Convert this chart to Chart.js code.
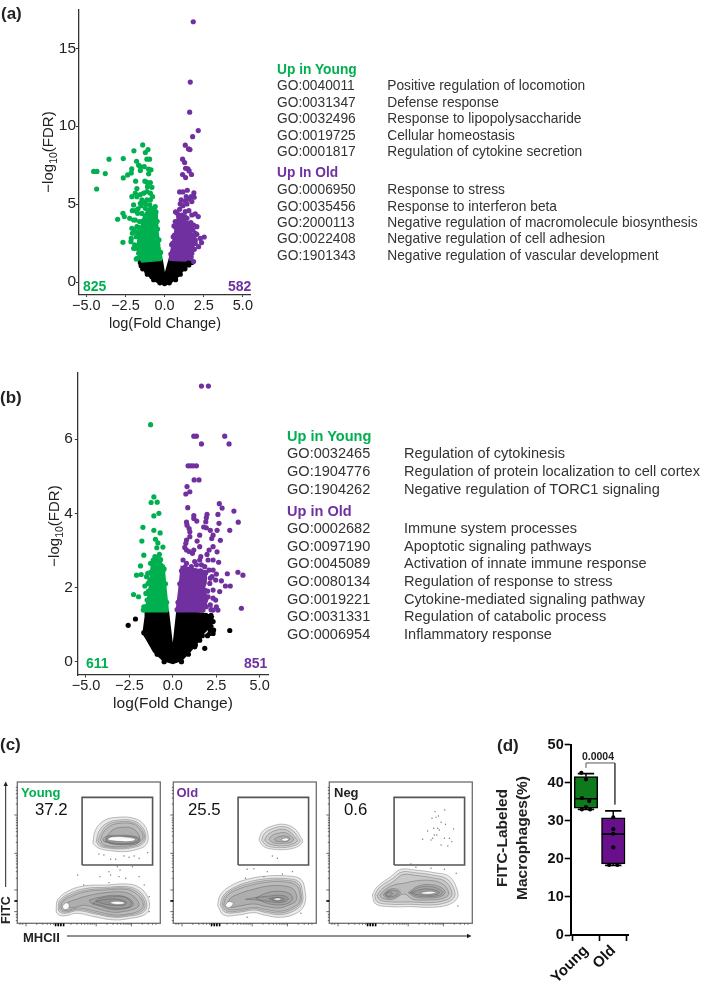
<!DOCTYPE html>
<html>
<head>
<meta charset="utf-8">
<title>Volcano plots and phagocytosis</title>
<script src="https://cdn.jsdelivr.net/npm/chart.js@4"></script>
<style>
	html, body { margin: 0; padding: 0; background: #fff; }
	#page { position: relative; width: 709px; height: 991px; overflow: hidden; font-family: "Liberation Sans", Arial, sans-serif; color: #333; }
	canvas { position: absolute; filter: blur(0.35px); }
	.t { position: absolute; white-space: nowrap; line-height: 1; transform: translateY(-50%); }
	.c { position: absolute; white-space: nowrap; line-height: 1; transform: translate(-50%, -50%); }
	.r { position: absolute; white-space: nowrap; line-height: 1; transform: translate(-50%, -50%) rotate(-90deg); }
	.b { font-weight: bold; }
	sub { font-size: 70%; line-height: 0; }
	svg { position: absolute; left: 0; top: 0; }
</style>
</head>
<body>
<div id="page">
	<canvas id="volcano_a" style="left:0;top:0"></canvas>
	<canvas id="volcano_b" style="left:0;top:360px"></canvas>
	<canvas id="flow_young" style="left:9px;top:776px"></canvas>
	<canvas id="flow_old" style="left:165px;top:776px"></canvas>
	<canvas id="flow_neg" style="left:321px;top:776px"></canvas>
	<canvas id="box_d" style="left:490px;top:735px"></canvas>
	<svg width="709" height="991">
		<line x1="5.7" y1="887" x2="5.7" y2="785" stroke="#222" stroke-width="1"/>
		<path d="M3.5 786 L5.7 781.5 L7.9 786 Z" fill="#222"/>
		<line x1="67" y1="936" x2="468" y2="936" stroke="#222" stroke-width="1"/>
		<path d="M467 933.8 L471.5 936 L467 938.2 Z" fill="#222"/>
	</svg>
</div>
<script>
const GREEN = '#00B050';
const PURPLE = '#7030A0';

// Panel (a) points as [log fold change, -log10 FDR].
const aGreen = [[-1.4,8.8],[-1.96,8.42],[-1.06,8.5],[-1.23,8.31],[-3.55,7.88],[-2.64,7.92],[-1.79,7.75],[-1.13,7.88],[-.96,7.88],[-1.66,7.5],[-1.55,7.4],[-1.3,7.4],[-4.53,7.1],[-4.32,7.1],[-2.1,7.26],[-1.02,7.24],[-.87,7.2],[-3.79,6.96],[-2.13,7],[-2.36,6.87],[-1.55,7.15],[-2.64,6.68],[-1.02,6.94],[-1.85,6.47],[-1.26,6.47],[-1.13,6.4],[-.91,6.38],[-4.34,5.97],[-1.09,6.12],[-.81,6.08],[-1.77,6],[-1.87,5.7],[-1.55,5.61],[-1.34,5.7],[-2.09,5.48],[-1.77,5.48],[-1.13,5.8],[-.91,5.7],[-.77,5.48],[-1.98,4.95],[-2.06,4.58],[-1.55,5.05],[-1.87,4.58],[-1.72,4.41],[-1.23,4.73],[-2.66,4.41],[-2.57,4.2],[-3,4.03],[-2.23,4.09],[-1.98,3.98],[-1.87,3.98],[-2.09,3.45],[-1.77,3.55],[-2.06,3.13],[-1.81,2.91],[-2.13,2.8],[-2.66,2.55],[-2.15,2.59],[-1.98,2.16],[-1.81,1.48],[-1.91,2.38],[-1.66,3.13],[-1.13,5.27],[-1.45,5.27],[-.91,5.27],[-.7,4.73],[-.6,4.84],[-1.02,4.41],[-1.94,3.34],[-1.6,3.88],[-1.87,2.16],[-1.66,1.84],[-1.72,1.52],[-1.5,4.9],[-1.7,4.7],[-1.3,5.1],[-1.45,4.4],[-1.75,3.2],[-1.6,2.6],[-.55,4.5],[-.48,3.9],[-1.7,2.9],[-1.62,3.5],[-.25,1.9],[-.36,2.7],[-.45,3.4],[-.5,3.9],[-.58,4.3],[-1.2,5],[-.95,4.95],[-1.65,2.1],[-1.58,1.55],[-1.42,3.9],[-1.52,3.1]];
const aPurple = [[1.83,16.7],[1.64,12.83],[1.6,10.9],[2.15,9.72],[1.79,9.33],[1.32,8.78],[1.53,8.54],[1.62,8.5],[1.15,7.88],[1.28,7.67],[1.34,7.3],[1.49,7.26],[1.57,7.13],[1.72,6.9],[1.15,6.9],[1.34,6.7],[1.45,5.89],[.96,5.78],[1.17,5.78],[1.87,5.72],[1.7,5.48],[1.89,5.44],[1.55,5.33],[1.38,5.48],[1.06,5.27],[1.74,5.16],[1.32,5.2],[1,5.01],[1.43,5.01],[1.17,4.9],[1.55,4.58],[1.74,4.3],[2.15,4.2],[1.32,4.52],[1.96,4.37],[.7,4.5],[.81,4.41],[.96,4.67],[.68,3.88],[1.21,3.98],[2.06,3.55],[2.53,2.89],[2.36,2.53],[1.96,2.48],[2.06,3.06],[1.81,2.8],[1.6,2.91],[1.74,1.84],[1.85,1.31],[2.28,2.8],[2.17,2.27],[1.96,3.13],[1.64,1.52],[1.79,2.16],[1.43,3.77],[1.68,3.81],[1.85,3.66],[1.53,3.34],[1.81,3.34],[1.96,2.7],[1.43,4.09],[.6,3.6],[.9,4.2],[1.1,4.3],[.45,2.4],[.55,2.9],[1.9,2.1],[1.7,1.6],[.4,1.8],[.53,2.5],[.62,3],[.72,3.5],[.9,4],[1.2,3.7],[1.5,3.6],[1.7,3.5],[1.85,2.6],[1.9,3],[1.75,2.1],[1.05,4.05],[1.3,4.2]];
const aBlack = [[-1.55,1.26],[-1.3,.98],[1.74,1.26],[1.43,1.2],[1.11,.88],[-1.13,.66],[-.81,.34],[.68,.3],[.79,.45],[-1.5,1.05],[-1.1,1.3],[1.6,1.3],[.3,.2],[-.3,.1],[0,-.1],[-1.4,.85],[-1.1,.5],[-.7,.15],[-.3,-.05],[.3,-.05],[.7,.15],[1,.5],[1.3,.85],[1.55,1.1],[.2,0]];
// Outlines of the solid parts of the cloud in (a), where single dots can't be told apart.
const aGreenSolid = [[-.17,1.41],[-.32,2.27],[-.43,3.13],[-.49,4.2],[-.6,4.84],[-1.02,4.73],[-1.34,4.2],[-1.55,3.34],[-1.72,2.48],[-1.6,1.63],[-1.45,1.31]];
const aPurpleSolid = [[.3,1.41],[.47,2.27],[.64,3.13],[.79,3.81],[1.11,4.09],[1.43,3.55],[1.74,3.13],[1.85,2.27],[1.64,1.52],[1.32,1.37]];
const aBlackSolid = [[-1.45,1.35],[-.17,1.41],[0,.34],[.3,1.41],[1.43,1.37],[1.6,1.2],[1.32,.88],[.89,.45],[.47,.02],[0,-.13],[-.49,.02],[-.91,.34],[-1.34,.81],[-1.55,1.2]];

// Panel (b) points.
const bGreen = [[-1.28,6.39],[-1.09,4.44],[-1.25,4.29],[-.9,4.3],[-1.09,3.93],[-.8,4],[-1.72,3.62],[-1.09,3.54],[-.73,3.47],[-1.78,3.25],[-1,3.3],[-.86,3.2],[-.92,3.07],[-.57,3.09],[-1.67,2.87],[-.77,2.89],[-1.03,2.83],[-1.13,2.74],[-.9,2.79],[-1.28,2.65],[-.94,2.65],[-1.86,2.58],[-1.82,2.35],[-2.09,2.33],[-1.44,2.38],[-1.61,2.04],[-2.26,1.81],[-1.97,1.75],[-1.55,1.84],[-1.67,1.48],[-1.7,1.39],[-1.51,1.48],[-1.32,2.2],[-1.13,2.47],[-.59,2.56],[-.56,2.47],[-1.51,2.29],[-1.42,2.11],[-1.48,1.66],[-1.61,1.44],[-.35,1.6],[-.42,2.1],[-.5,2.5],[-.7,2.75],[-1.5,1.5],[-1.4,1.9],[-1.3,2.4],[-1.15,2.65]];
const bPurple = [[1.65,7.43],[2.05,7.43],[1.21,6.08],[1.36,6.08],[2.99,6.08],[1.65,5.87],[3.24,5.87],[.88,5.28],[1.02,5.28],[1.17,5.28],[1.36,5.28],[1.23,4.9],[1.51,4.9],[.82,4.72],[.98,4.58],[.75,4.52],[2.68,4.26],[2.84,4.14],[.86,4.15],[3.52,4.06],[1.97,3.97],[1.93,3.88],[2.6,3.97],[1.21,3.94],[1.21,3.86],[1.38,3.79],[2.66,3.73],[3.77,3.76],[3.28,3.54],[1.9,3.77],[.79,3.76],[.82,3.68],[.94,3.59],[.98,3.5],[1.78,3.63],[1.93,3.61],[2.16,3.54],[2.55,3.54],[2.32,3.41],[1.55,3.41],[.98,3.37],[.79,3.28],[1.4,3.25],[.75,3.19],[2.24,3.32],[2.32,3.1],[2.74,3.27],[.69,3.08],[.79,3.01],[.94,2.97],[1.13,2.92],[1.21,3.01],[1.55,3.1],[2.09,3.01],[2.55,2.96],[1.97,2.89],[1.61,2.83],[2.03,2.74],[2.32,2.74],[1.26,2.7],[.59,2.74],[1.55,2.74],[2.64,2.68],[3.14,2.37],[2.51,2.36],[3.75,2.41],[4.04,2.33],[2.8,2.18],[2.26,2.29],[3.03,2.04],[3.31,2.04],[2.7,1.89],[2.32,1.93],[3.95,1.44],[2.47,1.66],[2.51,1.48],[2.32,1.39],[2.6,1.39],[2.13,2.11],[1.84,1.93],[2.03,1.75],[2.32,1.71],[1.93,1.48],[1.74,1.39],[2.16,1.53],[2.09,2.47],[1.84,2.56],[1.65,2.61],[1.07,2.56],[.79,2.65],[1.36,2.61],[2.32,2.47],[2.16,2.25],[2.47,2.2],[.3,1.6],[.4,2.1],[.5,2.45],[.7,2.55],[1,2.5],[1.3,2.45],[1.6,2.45],[1.9,2.4],[2,1.9],[1.85,1.5],[2.2,1.4],[.25,1.4]];
const bBlack = [[-2.57,.98],[-2.15,1.15],[3.28,.84],[1.84,.36],[2.13,.76],[2.32,1.08],[2.03,1.21],[2.16,.85],[1.93,.99],[2.32,.76],[1.55,.58],[1.26,.4],[-1.67,.78],[-1.23,.49],[2.1,1.1],[1.9,1.25],[2,.7],[-1.5,.9],[-1.3,.55],[-.9,.2],[-.5,0],[.5,0],[.9,.2],[1.3,.45],[1.7,.7],[2,1],[2.2,1.25],[1.5,1.25],[1.8,.95],[1.9,1.15],[2.2,.95],[2.35,.85]];
const bGreenSolid = [[-.27,1.35],[-.4,1.93],[-.52,2.56],[-.94,2.83],[-1.23,2.56],[-1.36,1.93],[-1.57,1.35]];
const bPurpleSolid = [[.21,1.35],[.36,1.93],[.5,2.56],[.98,2.52],[1.55,2.47],[1.93,2.43],[1.9,2.11],[1.74,1.93],[2.03,1.71],[1.74,1.35]];
const bBlackSolid = [[-1.57,1.35],[-.27,1.35],[0,.27],[.25,1.35],[1.74,1.3],[2.32,1.21],[2.13,.94],[1.74,.76],[1.36,.49],[.98,.27],[.5,.04],[0,-.04],[-.56,.04],[-1.09,.27],[-1.42,.54],[-1.7,.76],[-1.57,1.21]];

const volcanoXTicks = [-5, -2.5, 0, 2.5, 5];
const aYTicks = [0, 5, 10, 15];
const bYTicks = [0, 2, 4, 6];

// Contour outlines of the flow plots, in channel units of the axes. Outermost level first.
const youngTop = [
	[[225,240],[233,280],[258,308],[298,318],[348,315],[378,295],[390,260],[383,235],[358,222],[318,215],[278,218],[243,225]],
	[[235,245],[243,275],[266,300],[303,310],[348,307],[373,288],[383,258],[373,238],[348,228],[308,223],[268,226],[245,232]],
	[[240,248],[250,272],[270,296],[304,305],[346,302],[369,285],[379,258],[368,240],[344,231],[306,226],[270,229],[250,235]],
	[[248,250],[256,272],[276,292],[305,300],[345,298],[365,282],[375,258],[362,243],[340,234],[305,230],[272,232],[254,238]],
	[[262,252],[272,268],[288,282],[310,288],[340,286],[358,272],[365,255],[352,244],[330,238],[300,236],[275,240]],
	[[258,245],[290,238],[330,236],[358,240],[366,252],[345,262],[300,264],[268,262],[256,254]],
	[[262,246],[295,240],[335,240],[360,244],[362,252],[340,260],[298,261],[270,258]],
	[[270,250],[300,246],[340,246],[352,252],[330,258],[290,260],[272,256]]
];
const youngBottom = [
	[[116,50],[120,70],[148,95],[198,112],[268,115],[328,118],[363,108],[388,80],[393,45],[378,25],[338,15],[288,10],[228,20],[178,30],[138,22],[118,30]],
	[[122,50],[126,68],[152,88],[200,104],[265,108],[325,110],[358,100],[380,76],[385,47],[370,30],[335,22],[288,18],[232,28],[180,38],[142,30],[124,36]],
	[[126,50],[131,67],[156,84],[202,99],[263,104],[322,106],[354,96],[375,74],[380,48],[365,33],[332,25],[289,21],[235,31],[182,42],[144,34],[128,39]],
	[[130,50],[136,66],[160,80],[205,95],[262,100],[320,102],[350,92],[370,72],[375,50],[360,36],[330,28],[290,25],[238,35],[185,46],[146,38],[132,42]],
	[[140,52],[150,62],[175,72],[215,84],[262,92],[315,94],[342,84],[358,68],[362,52],[345,42],[315,35],[285,33],[245,42],[200,54],[160,46]],
	[[215,70],[245,78],[290,84],[325,78],[345,62],[340,50],[310,42],[280,42],[245,52],[220,60]],
	[[225,60],[245,74],[285,80],[320,78],[340,62],[335,50],[308,45],[278,46],[248,54]],
	[[235,66],[265,72],[300,72],[325,62],[318,55],[290,54],[258,58]],
	[[275,64],[300,66],[320,62],[310,57],[285,58]]
];
const youngLeftCore = [
	[[135,54],[148,62],[155,52],[148,42],[137,44]]
];
const oldTop = [
	[[255,250],[265,275],[295,292],[330,297],[360,285],[378,262],[385,245],[370,230],[340,222],[300,222],[270,230]],
	[[263,250],[272,270],[298,285],[330,290],[355,279],[372,258],[378,246],[365,235],[338,228],[300,228],[275,235]],
	[[272,250],[282,266],[303,278],[330,282],[350,272],[365,255],[370,247],[356,238],[334,233],[302,234],[282,240]],
	[[285,252],[295,264],[312,270],[332,272],[348,264],[358,252],[350,243],[330,240],[305,240],[292,245]],
	[[300,252],[315,260],[335,262],[348,255],[342,247],[322,245],[305,247]],
	[[322,252],[335,256],[344,252],[336,247],[325,248]]
];
const oldBottom = [
	[[132,55],[140,85],[170,112],[220,132],[280,142],[340,142],[380,132],[392,100],[392,60],[370,32],[320,18],[270,25],[240,32],[195,25],[150,25]],
	[[140,55],[148,82],[176,105],[224,124],[282,134],[338,134],[374,125],[384,98],[384,62],[364,40],[320,26],[272,33],[240,40],[196,33],[155,33]],
	[[145,55],[153,81],[180,102],[227,119],[284,129],[336,129],[370,120],[380,96],[380,63],[360,44],[319,31],[273,37],[241,44],[197,37],[158,37]],
	[[150,55],[158,80],[184,98],[230,114],[285,124],[335,124],[365,115],[376,95],[376,64],[356,48],[318,36],[275,42],[242,48],[198,42],[162,42]],
	[[160,56],[170,75],[195,88],[238,102],[285,112],[330,112],[355,104],[366,88],[366,68],[345,55],[315,46],[278,50],[240,58],[200,52],[170,48]],
	[[245,75],[275,90],[310,96],[345,90],[355,75],[345,62],[315,55],[280,60]],
	[[215,72],[250,78],[290,82],[320,84],[342,76],[335,66],[312,62],[280,66],[245,70]],
	[[285,74],[305,78],[325,76],[332,72],[322,67],[300,68]],
	[[295,72],[310,76],[322,73],[312,69]]
];
const oldLeftCore = [
	[[155,55],[165,65],[178,60],[172,50],[160,48]]
];
const negBottom = [
	[[128,85],[143,110],[183,140],[213,162],[253,160],[313,152],[358,140],[381,100],[381,75],[353,55],[303,48],[243,50],[183,50],[138,58]],
	[[135,85],[150,108],[188,134],[216,154],[255,152],[312,144],[352,132],[372,100],[372,78],[348,62],[302,55],[243,57],[185,57],[143,64]],
	[[142,84],[158,104],[192,126],[218,146],[257,144],[310,136],[345,126],[363,100],[363,80],[342,68],[300,62],[243,64],[188,64],[150,70]],
	[[150,84],[165,100],[195,116],[222,120],[262,128],[308,128],[338,118],[354,98],[354,84],[335,74],[298,70],[250,72],[222,88],[190,72],[158,75]],
	[[160,86],[172,98],[195,104],[212,92],[195,78],[170,76]],
	[[165,87],[175,96],[192,99],[206,92],[192,81],[172,80]],
	[[168,88],[178,94],[188,90],[182,82],[172,82]],
	[[235,92],[265,112],[305,116],[335,106],[345,92],[330,80],[295,76],[258,78]],
	[[240,92],[268,108],[305,110],[332,100],[338,92],[325,83],[293,80],[260,82]],
	[[245,92],[275,102],[305,102],[328,94],[318,86],[290,84],[262,86]],
	[[270,92],[300,96],[318,92],[302,88],[280,88]]
];
const youngStray = [[243,208],[258,205],[278,192],[293,192],[318,202],[333,198],[348,202],[363,195],[388,212],[298,170],[343,170],[180,145],[246,140],[273,155],[278,145],[303,140],[306,160],[363,140],[378,115],[323,135],[273,122],[198,115],[393,35],[393,80]];
const oldStray = [[295,202],[310,195],[220,162],[240,164],[280,155],[215,135],[325,148],[355,155],[220,18],[380,30],[270,140]];
const negStray = [[315,335],[344,340],[306,315],[318,318],[325,322],[333,303],[346,297],[293,277],[311,285],[323,285],[328,280],[370,283],[320,265],[278,252],[308,255],[313,265],[343,255],[358,255],[365,245],[333,235],[353,232],[303,250],[243,178],[258,168],[303,165],[343,162],[378,150],[383,52]];
const flowGate = [[193,175],[403,175],[403,378],[193,378],[193,175]];
const flowMajorX = [26, 128, 235, 340];
const flowMinorX = [8, 16, 58, 76, 89, 99, 108, 115, 121, 160, 178, 191, 201, 210, 217, 223, 229, 267, 285, 298, 308, 317, 324, 330, 336, 372, 390, 403, 413];
const flowMajorY = [35, 100, 210, 325];
const flowMinorY = [8, 18, 26, 68, 135, 155, 168, 178, 187, 195, 203, 243, 262, 275, 285, 294, 302, 309, 316, 358, 376, 389, 399, 408];
const flowDarkX = [114, 122, 130, 138];
const flowDarkY = [67];

// Panel (d) box plot values.
const boxLabels = ['Young', 'Old'];
const boxPositions = [1, 2];
const boxMin = [33, 18.3];
const boxQ1 = [33.3, 18.7];
const boxMedian = [35.8, 26.5];
const boxQ3 = [41.6, 30.8];
const boxMax = [42.4, 32.6];
const boxColors = ['#0E7A1C', '#680F8C'];
const boxYTicks = [0, 10, 20, 30, 40, 50];
const youngDots = [[.83,42.6],[1,40.9],[.85,36],[1.12,35.2],[1,33.6],[.85,33],[1.15,33]];
const oldDots = [[2,30.9],[2,27.8],[2,26.6],[2,23],[1.85,18.4],[2.15,18.4]];
const bracket = [[1,43.9],[1,45.2],[2.06,45.2],[2.06,34.3]];

// Text of the figure.
const aYoungIds = ['GO:0040011', 'GO:0031347', 'GO:0032496', 'GO:0019725', 'GO:0001817'];
const aYoungNames = ['Positive regulation of locomotion', 'Defense response', 'Response to lipopolysaccharide', 'Cellular homeostasis', 'Regulation of cytokine secretion'];
const aOldIds = ['GO:0006950', 'GO:0035456', 'GO:2000113', 'GO:0022408', 'GO:1901343'];
const aOldNames = ['Response to stress', 'Response to interferon beta', 'Negative regulation of macromolecule biosynthesis', 'Negative regulation of cell adhesion', 'Negative regulation of vascular development'];
const bYoungIds = ['GO:0032465', 'GO:1904776', 'GO:1904262'];
const bYoungNames = ['Regulation of cytokinesis', 'Regulation of protein localization to cell cortex', 'Negative regulation of TORC1 signaling'];
const bOldIds = ['GO:0002682', 'GO:0097190', 'GO:0045089', 'GO:0080134', 'GO:0019221', 'GO:0031331', 'GO:0006954'];
const bOldNames = ['Immune system processes', 'Apoptotic signaling pathways', 'Activation of innate immune response', 'Regulation of response to stress', 'Cytokine-mediated signaling pathway', 'Regulation of catabolic process', 'Inflammatory response'];

const FONT = '"Liberation Sans", Arial, sans-serif';
const page = document.getElementById('page');

function addText(cls, x, y, html, size, color) {
	const el = document.createElement('div');
	el.className = cls;
	el.style.left = x + 'px';
	el.style.top = y + 'px';
	el.style.fontSize = size + 'px';
	if (color) el.style.color = color;
	el.innerHTML = html;
	page.appendChild(el);
}

function dots(data, color, radius) {
	return { data, backgroundColor: color, borderWidth: 0, pointRadius: radius, pointHoverRadius: radius };
}

function solid(data, color) {
	return {
		data: data.concat([data[0]]),
		showLine: true,
		fill: 'shape',
		backgroundColor: color,
		borderColor: color,
		borderWidth: 2,
		pointRadius: 0,
	};
}

function createVolcano(canvasId, cfg) {
	const canvas = document.getElementById(canvasId);
	canvas.width = cfg.width;
	canvas.height = cfg.height;
	const datasets = [
		dots(cfg.green, GREEN, 2.6), solid(cfg.greenSolid, GREEN),
		dots(cfg.purple, PURPLE, 2.6), solid(cfg.purpleSolid, PURPLE),
		dots(cfg.black, '#000', 2.6), solid(cfg.blackSolid, '#000'),
	];
	return new Chart(canvas.getContext('2d'), {
		type: 'scatter',
		data: { datasets },
		options: {
			responsive: false,
			animation: false,
			layout: { padding: { top: cfg.top, right: cfg.width - cfg.right, left: 0, bottom: 0 } },
			plugins: { legend: { display: false }, tooltip: { enabled: false } },
			scales: {
				x: {
					min: -5.5,
					max: 5.5,
					afterBuildTicks: s => { s.ticks = volcanoXTicks.map(value => ({ value })); },
					afterFit: s => { s.height = cfg.height - cfg.bottom; },
					grid: { drawOnChartArea: false, tickLength: 2.5, tickColor: '#333', tickWidth: 1 },
					border: { color: '#333', width: 1.3 },
					ticks: {
						autoSkip: false,
						maxRotation: 0,
						padding: 0,
						color: '#222',
						font: { family: FONT, size: 14.5 },
						callback: v => v.toFixed(1).replace('-', '\u2212'),
					},
				},
				y: {
					min: cfg.yMin,
					max: cfg.yMax,
					afterBuildTicks: s => { s.ticks = cfg.yTicks.map(value => ({ value })); },
					afterFit: s => { s.width = cfg.left; },
					grid: { drawOnChartArea: false, tickLength: 2.5, tickColor: '#333', tickWidth: 1 },
					border: { color: '#333', width: 1.3 },
					ticks: { padding: cfg.yPad, color: '#222', font: { family: FONT, size: 15.5 } },
				},
			},
		},
	});
}

// Frame and log ticks of a flow panel, placed through the chart's scales.
const flowFrame = {
	id: 'flowFrame',
	afterDatasetsDraw(chart) {
		const { ctx, chartArea: a, scales: { x, y } } = chart;
		ctx.save();
		ctx.strokeStyle = '#6e6e6e';
		ctx.lineWidth = 1.3;
		ctx.strokeRect(a.left, a.top, a.right - a.left, a.bottom - a.top);
		ctx.strokeStyle = '#444';
		ctx.lineWidth = 0.8;
		const tickX = (v, len) => { const p = x.getPixelForValue(v); ctx.beginPath(); ctx.moveTo(p, a.bottom); ctx.lineTo(p, a.bottom + len); ctx.stroke(); };
		const tickY = (v, len) => { const p = y.getPixelForValue(v); ctx.beginPath(); ctx.moveTo(a.left, p); ctx.lineTo(a.left - len, p); ctx.stroke(); };
		flowMinorX.forEach(v => tickX(v, 1.5));
		flowMinorY.forEach(v => tickY(v, 1.5));
		flowMajorX.forEach(v => tickX(v, 3));
		flowMajorY.forEach(v => tickY(v, 3));
		ctx.strokeStyle = '#000';
		ctx.lineWidth = 1.6;
		flowDarkX.forEach(v => tickX(v, 3));
		flowDarkY.forEach(v => tickY(v, 3));
		ctx.restore();
	},
};

function contourDatasets(blobs) {
	const sets = [];
	blobs.forEach(levels => {
		levels.forEach((level, i) => {
			const last = i === levels.length - 1;
			sets.push({
				data: level.concat([level[0]]),
				showLine: true,
				tension: 0.4,
				pointRadius: 0,
				borderColor: 'rgba(60,60,60,0.55)',
				borderWidth: 0.6,
				fill: 'shape',
				backgroundColor: last ? 'rgba(255,255,255,0.95)' : 'rgba(90,90,90,0.13)',
			});
		});
	});
	// Chart.js paints dataset 0 last, so the inner levels have to come first.
	return sets.reverse();
}

function createFlow(canvasId, blobs, stray) {
	const canvas = document.getElementById(canvasId);
	canvas.width = 158;
	canvas.height = 158;
	return new Chart(canvas.getContext('2d'), {
		type: 'scatter',
		data: {
			datasets: [
				{ data: flowGate, showLine: true, borderColor: '#555', borderWidth: 1.6, pointRadius: 0, fill: false },
				dots(stray, '#777', 0.7),
				...contourDatasets(blobs),
			],
		},
		plugins: [flowFrame],
		options: {
			responsive: false,
			animation: false,
			layout: { padding: { left: 8.3, right: 6.7, top: 6, bottom: 10.7 } },
			plugins: { legend: { display: false }, tooltip: { enabled: false } },
			scales: {
				x: { display: false, min: 0, max: 426 },
				y: { display: false, min: 0, max: 424 },
			},
		},
	});
}

function whisker(i, from, to) {
	return { type: 'scatter', data: [[boxPositions[i], from], [boxPositions[i], to]], showLine: true, borderColor: '#000', borderWidth: 1.5, pointRadius: 0 };
}

function hLine(i, value, half, width) {
	return { type: 'scatter', data: [[boxPositions[i] - half, value], [boxPositions[i] + half, value]], showLine: true, borderColor: '#000', borderWidth: width, pointRadius: 0 };
}

function createBox() {
	const canvas = document.getElementById('box_d');
	canvas.width = 219;
	canvas.height = 256;
	const lines = [];
	boxPositions.forEach((_, i) => {
		lines.push(hLine(i, boxMedian[i], 0.42, 1.6), hLine(i, boxMax[i], 0.3, 1.6), hLine(i, boxMin[i], 0.3, 1.6));
		lines.push(whisker(i, boxQ3[i], boxMax[i]), whisker(i, boxMin[i], boxQ1[i]));
	});
	return new Chart(canvas.getContext('2d'), {
		data: {
			datasets: [
				{ type: 'scatter', data: youngDots, backgroundColor: '#000', borderWidth: 0, pointRadius: 2.1 },
				{ type: 'scatter', data: oldDots, backgroundColor: '#000', borderWidth: 0, pointRadius: 2.1 },
				{ type: 'scatter', data: bracket, showLine: true, borderColor: '#555', borderWidth: 1, pointRadius: 0 },
				...lines,
				{
					type: 'bar',
					data: boxPositions.map((x, i) => ({ x, y: [boxQ1[i], boxQ3[i]] })),
					backgroundColor: boxColors,
					borderColor: '#000',
					borderWidth: 1.5,
					borderSkipped: false,
					barThickness: 23.5,
				},
			],
		},
		options: {
			responsive: false,
			animation: false,
			layout: { padding: { top: 8.3, right: 81, left: 0, bottom: 0 } },
			plugins: { legend: { display: false }, tooltip: { enabled: false } },
			scales: {
				x: {
					type: 'linear',
					offset: false,
					min: 0.44,
					max: 2.54,
					afterBuildTicks: s => { s.ticks = boxPositions.map(value => ({ value })); },
					afterFit: s => { s.height = 56; },
					grid: { drawOnChartArea: false, tickLength: 6, tickColor: '#000', tickWidth: 1.6 },
					border: { color: '#000', width: 2 },
					ticks: {
						autoSkip: false,
						minRotation: 45,
						maxRotation: 45,
						padding: 1,
						color: '#111',
						font: { family: FONT, size: 15, weight: 'bold' },
						callback: v => boxLabels[boxPositions.indexOf(v)],
					},
				},
				y: {
					min: 0,
					max: 50,
					afterBuildTicks: s => { s.ticks = boxYTicks.map(value => ({ value })); },
					afterFit: s => { s.width = 80.7; },
					grid: { drawOnChartArea: false, tickLength: 6, tickColor: '#000', tickWidth: 1.6 },
					border: { color: '#000', width: 2 },
					ticks: { padding: 1, color: '#111', font: { family: FONT, size: 14.5, weight: 'bold' } },
				},
			},
		},
	});
}

function addGoList(x1, x2, size, ids, names, rows) {
	ids.forEach((id, i) => {
		addText('t', x1, rows[i], id, size);
		addText('t', x2, rows[i], names[i], size);
	});
}

createVolcano('volcano_a', {
	width: 260, height: 330, left: 78.5, right: 250.7, top: 9, bottom: 294.5, yMin: -0.8, yMax: 17.5, yTicks: aYTicks, yPad: 0,
	green: aGreen, purple: aPurple, black: aBlack, greenSolid: aGreenSolid, purpleSolid: aPurpleSolid, blackSolid: aBlackSolid,
});
createVolcano('volcano_b', {
	width: 280, height: 350, left: 77.3, right: 268.3, top: 12.7, bottom: 315, yMin: -0.36, yMax: 7.79, yTicks: bYTicks, yPad: 2,
	green: bGreen, purple: bPurple, black: bBlack, greenSolid: bGreenSolid, purpleSolid: bPurpleSolid, blackSolid: bBlackSolid,
});
createFlow('flow_young', [youngTop, youngBottom, youngLeftCore], youngStray);
createFlow('flow_old', [oldTop, oldBottom, oldLeftCore], oldStray);
createFlow('flow_neg', [negBottom], negStray);
createBox();

// Panel letters
addText('t b', 1, 13, '(a)', 17, '#222');
addText('t b', 0, 397, '(b)', 17, '#222');
addText('t b', 0, 744, '(c)', 17, '#222');
addText('t b', 497, 745, '(d)', 17, '#222');

// Axis titles and counts
addText('c', 165, 323, 'log(Fold Change)', 14.5, '#222');
addText('r', 47, 152, '\u2212log<sub>10</sub>(FDR)', 15, '#222');
addText('t b', 83, 286, '825', 14, GREEN);
addText('t b', 228, 286, '582', 14, PURPLE);
addText('c', 173, 703, 'log(Fold Change)', 15.5, '#222');
addText('r', 53, 526, '\u2212log<sub>10</sub>(FDR)', 15, '#222');
addText('t b', 86, 663, '611', 14, GREEN);
addText('t b', 244, 663, '851', 14, PURPLE);

// GO lists
addText('t b', 277, 70, 'Up in Young', 13.75, GREEN);
addGoList(277, 387.3, 13.75, aYoungIds, aYoungNames, [86, 102.7, 119, 135.7, 152.3]);
addText('t b', 277, 173.3, 'Up In Old', 13.75, PURPLE);
addGoList(277, 387.3, 13.75, aOldIds, aOldNames, [190, 206.7, 223.3, 239.3, 256]);
addText('t b', 287, 436, 'Up in Young', 14.55, GREEN);
addGoList(287, 404, 14.55, bYoungIds, bYoungNames, [453.3, 471, 488.7]);
addText('t b', 287, 510.7, 'Up in Old', 14.55, PURPLE);
addGoList(287, 404, 14.55, bOldIds, bOldNames, [528.3, 546, 563.3, 581, 598.7, 616, 633.7]);

// Flow panel labels
addText('t b', 21, 792, 'Young', 13, GREEN);
addText('t b', 176.5, 792, 'Old', 13, PURPLE);
addText('t b', 334, 792, 'Neg', 13, '#222');
addText('t', 35, 810, '37.2', 16.8, '#111');
addText('t', 188, 810, '25.5', 16.8, '#111');
addText('t', 344, 810, '0.6', 16.8, '#111');
addText('t b', 23, 936.7, 'MHCII', 13, '#222');
addText('r b', 6, 910, 'FITC', 12.5, '#222');

// Panel (d) text
addText('r b', 501.7, 837.7, 'FITC-Labeled', 15.5, '#222');
addText('r b', 521.7, 837.7, 'Macrophages(%)', 15.5, '#222');
addText('c b', 598, 756, '0.0004', 10.5, '#222');
</script>
</body>
</html>
